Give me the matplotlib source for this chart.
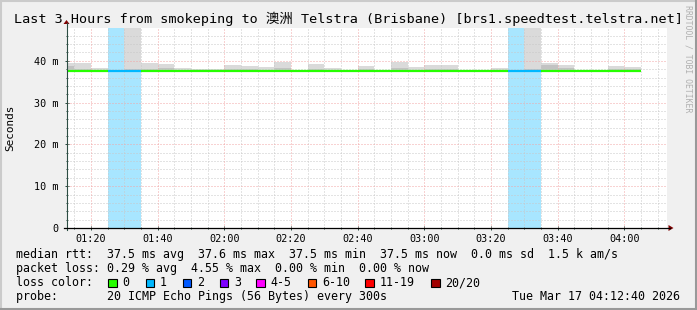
import matplotlib
matplotlib.use("Agg")
import matplotlib.pyplot as plt
from matplotlib.patches import Rectangle, Polygon
from matplotlib.lines import Line2D

# ---------------- data ----------------
title = "Last 3 Hours from smokeping to 澳洲 Telstra (Brisbane) [brs1.speedtest.telstra.net]"
window_start = "01:12:40"
window_end = "04:12:40"
bin_start = ["01:10", "01:15", "01:20", "01:25", "01:30", "01:35", "01:40", "01:45",
             "01:50", "01:55", "02:00", "02:05", "02:10", "02:15", "02:20", "02:25",
             "02:30", "02:35", "02:40", "02:45", "02:50", "02:55", "03:00", "03:05",
             "03:10", "03:15", "03:20", "03:25", "03:30", "03:35", "03:40", "03:45",
             "03:50", "03:55", "04:00"]
median_ms = [37.5, 37.5, 37.5, 37.5, 37.5, 37.5, 37.5, 37.5, 37.5, 37.5,
             37.5, 37.5, 37.5, 37.5, 37.5, 37.5, 37.5, 37.5, 37.5, 37.5,
             37.5, 37.5, 37.5, 37.5, 37.5, 37.5, 37.5, 37.6, 37.5, 37.5,
             37.5, 37.5, 37.5, 37.5, 37.5]
smoke_low_ms = [37.3, 37.4, 37.4, 37.4, 37.4, 37.4, 37.4, 37.4, 37.4, 37.4,
                37.4, 37.4, 37.4, 37.4, 37.4, 37.4, 37.4, 37.4, 37.4, 37.4,
                37.4, 37.4, 37.4, 37.4, 37.4, 37.4, 37.4, 37.4, 37.4, 37.4,
                37.4, 37.4, 37.4, 37.4, 37.4]
smoke_inner_ms = [38.8, 38.0, 37.9, 37.7, 38.0, 38.0, 38.2, 37.9, 37.7, 37.7,
                  38.0, 38.0, 37.9, 38.2, 37.6, 38.0, 37.9, 37.6, 38.0, 37.6,
                  38.2, 37.9, 38.0, 38.0, 37.6, 37.6, 37.9, 37.7, 38.1, 39.0,
                  38.2, 37.6, 37.6, 38.0, 38.0]
smoke_top_ms = [39.4, 39.4, 38.3, 37.8, 60.0, 39.4, 39.3, 38.3, 38.0, 38.0,
                39.0, 38.8, 38.6, 39.6, 37.7, 39.3, 38.3, 37.7, 38.8, 37.7,
                39.6, 38.5, 39.0, 39.0, 37.7, 37.7, 38.3, 37.8, 60.0, 39.5,
                39.0, 37.7, 37.7, 38.8, 38.6]
loss_pings = [0, 0, 0, 1, 1, 0, 0, 0, 0, 0,
              0, 0, 0, 0, 0, 0, 0, 0, 0, 0,
              0, 0, 0, 0, 0, 0, 0, 1, 1, 0,
              0, 0, 0, 0, 0]
y_max_ms = 47.85
x_tick_labels = ["01:20", "01:40", "02:00", "02:20", "02:40", "03:00", "03:20", "03:40", "04:00"]
y_ticks_ms = [0, 10, 20, 30, 40]
y_tick_labels = ["0", "10 m", "20 m", "30 m", "40 m"]
loss_legend_labels = ["0", "1", "2", "3", "4-5", "6-10", "11-19", "20/20"]
loss_legend_colors = ["#26ff00", "#00b8ff", "#0059ff", "#7e00ff", "#ff00ff", "#ff5500", "#ff0000", "#a10000"]
loss_legend_max = [0, 1, 2, 3, 5, 10, 19, 20]
stats_rtt = "median rtt:  37.5 ms avg  37.6 ms max  37.5 ms min  37.5 ms now  0.0 ms sd  1.5 k am/s"
stats_loss = "packet loss: 0.29 % avg  4.55 % max  0.00 % min  0.00 % now"
probe_text = "probe:       20 ICMP Echo Pings (56 Bytes) every 300s"
stamp_text = "Tue Mar 17 04:12:40 2026"
credit_text = "RRDTOOL / TOBI OETIKER"
y_label = "Seconds"


def to_min(s):
    parts = [int(p) for p in s.split(":")]
    m = parts[0] * 60 + parts[1]
    if len(parts) > 2:
        m += parts[2] / 60.0
    return m


def loss_color(n):
    for mx, c in zip(loss_legend_max, loss_legend_colors):
        if n <= mx:
            return c
    return loss_legend_colors[-1]


# ---------------- layout ----------------
W, H, DPI = 697, 310, 100
fig = plt.figure(figsize=(W / DPI, H / DPI), dpi=DPI, facecolor="#f0f0f0")

MONO = ["DejaVu Sans Mono", "Noto Sans CJK SC"]


def fx(x):
    return x / W


def fy(y):
    return 1 - y / H


# shaded frame (RRD style)
fig.add_artist(Line2D([fx(0), fx(W)], [fy(1), fy(1)], color="#cbcbcb", lw=1.5))
fig.add_artist(Line2D([fx(1), fx(1)], [fy(0), fy(H)], color="#cbcbcb", lw=1.5))
fig.add_artist(Line2D([fx(0), fx(W)], [fy(H - 1), fy(H - 1)], color="#999999", lw=1.5))
fig.add_artist(Line2D([fx(W - 1), fx(W - 1)], [fy(0), fy(H)], color="#999999", lw=1.5))

PL, PR, PT, PB = 66.5, 666.5, 28, 228
ax = fig.add_axes([fx(PL), fy(PB), (PR - PL) / W, (PB - PT) / H])
ax.set_facecolor("white")
for s in ax.spines.values():
    s.set_visible(False)

x0, x1 = to_min(window_start), to_min(window_end)
ax.set_xlim(x0, x1)
ax.set_ylim(0, y_max_ms)

xs = [to_min(t) for t in bin_start]
STEP = 5

# loss background
for x, n in zip(xs, loss_pings):
    if n > 0:
        ax.bar(x, y_max_ms, width=STEP, align="edge", bottom=0,
               color=loss_color(n), alpha=0.34, lw=0, zorder=1)

# smoke
ax.bar(xs, [t - b for t, b in zip(smoke_top_ms, smoke_low_ms)], bottom=smoke_low_ms,
       width=STEP, align="edge", color="#dadada", lw=0, zorder=2)
ax.bar(xs, [t - b for t, b in zip(smoke_inner_ms, smoke_low_ms)], bottom=smoke_low_ms,
       width=STEP, align="edge", color="#c2c2c2", lw=0, zorder=2.1)

# grid
minor_col = "#c8c8c8"
major_col = "#f2a6a6"
dash = (0, (1, 2))
for yv in range(2, 48, 2):
    if yv % 10:
        ax.axhline(yv, color=minor_col, lw=0.72, ls=dash, zorder=3)
for yv in y_ticks_ms[1:]:
    ax.axhline(yv, color=major_col, lw=0.72, ls=dash, zorder=3.1)
tick_minutes = [to_min(t) for t in x_tick_labels]
m = 75
while m < x1:
    if m not in tick_minutes:
        ax.axvline(m, color=minor_col, lw=0.72, ls=dash, zorder=3)
    m += 5
for tm in tick_minutes:
    ax.axvline(tm, color=major_col, lw=0.72, ls=dash, zorder=3.1)

# median line coloured by loss
for x, med, n in zip(xs, median_ms, loss_pings):
    ax.hlines(med, max(x, x0), x + STEP, colors=loss_color(n), lw=1.6, zorder=5,
              capstyle="butt")

# ticks
ax.set_xticks(tick_minutes)
ax.set_xticklabels(x_tick_labels, family=MONO, fontsize=7.3)
minor_x = [v for v in range(75, int(x1), 5) if v not in tick_minutes]
ax.set_xticks(minor_x, minor=True)
ax.set_yticks(y_ticks_ms)
ax.set_yticklabels(y_tick_labels, family=MONO, fontsize=7.3)
ax.set_yticks([v for v in range(2, 48, 2) if v % 10], minor=True)
ax.tick_params(axis="both", which="major", length=3, width=0.72, color="#2c4d43",
               direction="inout", labelcolor="black")
ax.tick_params(axis="both", which="minor", length=2, width=0.72, color="#2c4d43",
               direction="inout")
ax.tick_params(axis="x", which="major", pad=2.5)
ax.tick_params(axis="y", which="major", pad=4.5)

# axis lines + arrows
axis_col = "#2c4d43"
fig.add_artist(Line2D([fx(PL), fx(PL)], [fy(PB + 2), fy(PT - 5)], color=axis_col, lw=0.8))
fig.add_artist(Line2D([fx(PL - 3), fx(PR + 3)], [fy(PB), fy(PB)], color="black", lw=0.9))
fig.add_artist(Polygon([(fx(PL - 3), fy(PT - 4)), (fx(PL + 3), fy(PT - 4)), (fx(PL), fy(PT - 8))],
                       closed=True, transform=fig.transFigure, color="#7f0000", lw=0))
fig.add_artist(Polygon([(fx(PR + 2), fy(PB - 3)), (fx(PR + 2), fy(PB + 3)), (fx(PR + 7), fy(PB))],
                       closed=True, transform=fig.transFigure, color="#7f0000", lw=0))

# texts
fig.text(fx(348), fy(23.5), title, family=MONO, fontsize=9.7, ha="center", va="baseline")
fig.text(fx(10), fy(128), y_label, family=MONO, fontsize=7.9, rotation=90,
         ha="center", va="center")
fig.text(fx(688), fy(5), credit_text, family=MONO, fontsize=5.9, rotation=270,
         ha="center", va="top", color="#b0b0b0")

LS = 8.4
fig.text(fx(16), fy(258), stats_rtt, family=MONO, fontsize=LS, va="baseline")
fig.text(fx(16), fy(272), stats_loss, family=MONO, fontsize=LS, va="baseline")
fig.text(fx(16), fy(286), "loss color:", family=MONO, fontsize=LS, va="baseline")
box_x = [108, 145.5, 182.5, 219.5, 256, 307.5, 365, 431]
for bx, lab, col in zip(box_x, loss_legend_labels, loss_legend_colors):
    fig.add_artist(Rectangle((fx(bx), fy(287)), 8.5 / W, 8.5 / H, transform=fig.transFigure,
                             facecolor=col, edgecolor="black", lw=0.8))
    fig.text(fx(bx + 14.5), fy(286), lab, family=MONO, fontsize=LS, va="baseline")
fig.text(fx(16), fy(300), probe_text, family=MONO, fontsize=LS, va="baseline")
fig.text(fx(680), fy(300), stamp_text, family=MONO, fontsize=LS, va="baseline", ha="right")

fig.savefig("out.png", dpi=DPI, facecolor=fig.get_facecolor())
